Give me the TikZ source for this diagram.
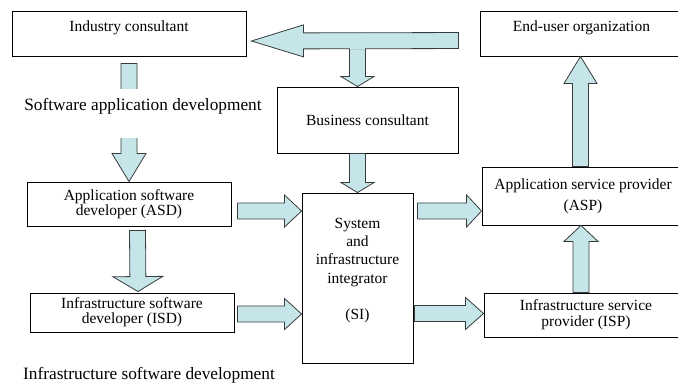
\documentclass[tikz,border=0pt]{standalone}
\usepackage{fontspec}
\setmainfont{Liberation Serif}
\usetikzlibrary{calc}

\definecolor{arrowfill}{RGB}{198,229,233}
\definecolor{arrowline}{RGB}{55,60,60}

% fat block arrow: start, end, head half width, head length
\newcommand{\fatarrow}[4]{%
  \draw[fat] ($(#1)!8pt!90:(#2)$)
    -- ($(#2)!#4!(#1)!8pt!90:(#2)$)
    -- ($(#2)!#4!(#1)!#3!90:(#2)$)
    -- (#2)
    -- ($(#2)!#4!(#1)!#3!-90:(#2)$)
    -- ($(#2)!#4!(#1)!8pt!-90:(#2)$)
    -- ($(#1)!8pt!-90:(#2)$) -- cycle;}

\tikzset{
  box/.style={draw, line width=0.9pt, inner sep=0pt, align=center,
    font=\fontsize{15.5}{18.3}\selectfont},
  lbl/.style={inner sep=0pt, font=\fontsize{17.3}{20}\selectfont},
  fat/.style={draw=arrowline, fill=arrowfill, line width=0.8pt, line join=miter}
}

\begin{document}
\begin{tikzpicture}[x=1pt,y=-1pt]
  \clip (0,0) rectangle (678,385);

  % boxes
  \node[box, minimum width=234pt, minimum height=45pt] (ind) at (129,33.5) {Industry consultant\\[-4pt]\mbox{}};
  \node[box, minimum width=181pt, minimum height=66pt] (biz) at (367.5,120) {Business consultant};
  \node[box, minimum width=203pt, minimum height=45pt] (end) at (581.5,33.5) {End-user organization\\[-4pt]\mbox{}};
  \node[box, minimum width=202pt, minimum height=58pt] (asp) at (583,196) {Application service provider\\[2.5pt](ASP)};
  \node[box, minimum width=204pt, minimum height=44pt] (isp) at (586,315) {Infrastructure service\\[-2.5pt]provider (ISP)};
  \node[box, minimum width=111pt, minimum height=170pt] (si) at (357.5,278)
    {System\\and\\infrastructure\\integrator\\[18.3pt](SI)\\\mbox{}};
  \node[box, minimum width=204pt, minimum height=44pt] (asd) at (129,204) {Application software\\[-3pt]developer (ASD)};
  \node[box, minimum width=204pt, minimum height=39pt] (isd) at (132,312.5) {Infrastructure software\\[-3pt]developer (ISD)};

  % arrow ends
  \coordinate (c1s) at ([shift={(0,-46)}]biz.north east);
  \coordinate (c1e) at ([shift={(5,7.5)}]ind.east);
  \coordinate (c2s) at (c1s -| si.north);
  \coordinate (c2e) at (si.north |- biz.north);
  \coordinate (c3s) at (si.north |- biz.south);
  \coordinate (c4s) at ([yshift=-7pt]ind.south);
  \coordinate (c5s) at ([shift={(8.5,4)}]asd.south);
  \coordinate (c5e) at ([shift={(6,-1)}]isd.north);
  \coordinate (c6s) at ([shift={(6,7)}]asd.east);
  \coordinate (c7s) at ([shift={(3,1.5)}]isd.east);
  \coordinate (c8s) at ([shift={(4,-67)}]si.east);
  \coordinate (c9s) at ([shift={(1,35.5)}]si.east);
  \coordinate (c10s) at ([xshift=-5pt]isp.north);
  \coordinate (c11s) at ([xshift=-2.5pt]asp.north);

  % consultants
  \fatarrow{c2s}{c2e}{16.5pt}{10pt}
  \fatarrow{c1s}{c1e}{16pt}{52pt}
  \fill[arrowfill] ([shift={(-7.5,8.5)}]c2s) rectangle ([shift={(7.5,6.5)}]c2s);
  \fatarrow{c3s}{si.north}{16.5pt}{10pt}

  % software development
  \fatarrow{c4s}{asd.north}{17pt}{28pt}
  \node[lbl, fill=white, anchor=base, text height=22pt, text depth=27pt] (appdev) at (143,111)
    {Software application development};
  \fatarrow{c5s}{c5e}{25pt}{15pt}
  \fatarrow{c6s}{c6s -| si.west}{16pt}{17pt}
  \fatarrow{c7s}{c7s -| si.west}{15.5pt}{17pt}

  % service providers
  \fatarrow{c8s}{c8s -| asp.west}{16pt}{15pt}
  \fatarrow{c9s}{c9s -| isp.west}{16pt}{18pt}
  \fatarrow{c10s}{c10s |- asp.south}{17pt}{16pt}
  \fatarrow{c11s}{c11s |- end.south}{16.5pt}{27pt}

  \node[lbl, anchor=base] (infdev) at (149,379) {Infrastructure software development};
\end{tikzpicture}
\end{document}
